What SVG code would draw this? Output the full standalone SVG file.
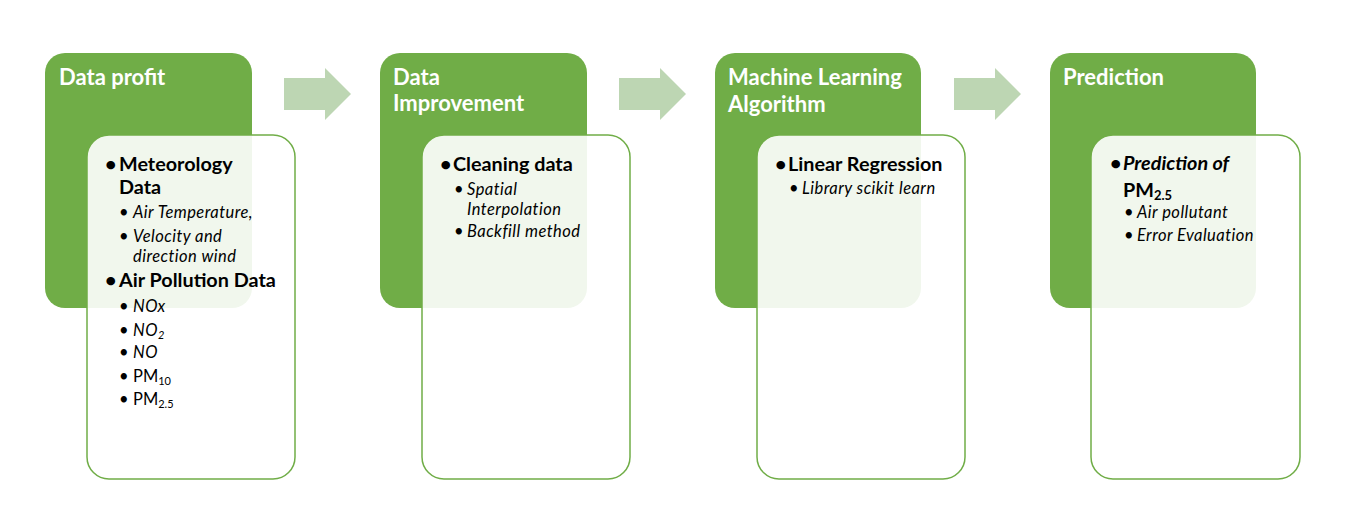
<svg xmlns="http://www.w3.org/2000/svg" width="1348" height="512" viewBox="0 0 1348 512">
<style>
.hdr{fill:#70AD47}
.box{fill:#FFFFFF;fill-opacity:0.9;stroke:#70AD47;stroke-width:1.5}
.arrow{fill:#BDD6B3}
.t{font-family:Lato,"Noto Sans",sans-serif;font-weight:bold;font-size:22px;fill:#FFFFFF}
.b1{font-family:Lato,"Noto Sans",sans-serif;font-weight:bold;font-size:19.8px;fill:#000000}
.b2{font-family:Lato,"Noto Sans",sans-serif;font-style:italic;font-size:16.5px;letter-spacing:0.45px;fill:#000000}
.r2{font-family:Lato,"Noto Sans",sans-serif;font-size:16.5px;fill:#000000}
.d{font-family:Lato,"Noto Sans",sans-serif;font-size:16.5px;fill:#000000}
</style>
<rect width="1348" height="512" fill="#FFFFFF"/>
<g id="connectors">
<polygon class="arrow" points="284,78 325,78 325,68 351,94 325,120 325,110 284,110"/>
<polygon class="arrow" points="619,78 660,78 660,68 686,94 660,120 660,110 619,110"/>
<polygon class="arrow" points="954,78 995,78 995,68 1021,94 995,120 995,110 954,110"/>
</g>
<g id="node-data-profit">
<rect class="hdr" x="45" y="53" width="207" height="255" rx="20"/>
<text class="t" x="59" y="85">Data profit</text>
<rect class="box" x="87" y="135" width="208" height="344" rx="22"/>
<text class="b1" x="105" y="171">•</text><text class="b1" x="119" y="171">Meteorology</text>
<text class="b1" x="119" y="194">Data</text>
<text class="d" x="119" y="218">•</text><text class="b2" x="133" y="218">Air Temperature,</text>
<text class="d" x="119" y="242">•</text><text class="b2" x="133" y="242">Velocity and</text>
<text class="b2" x="133" y="262">direction wind</text>
<text class="b1" x="105" y="287">•</text><text class="b1" x="119" y="287">Air Pollution Data</text>
<text class="d" x="119" y="312">•</text><text class="b2" x="133" y="312">NOx</text>
<text class="d" x="119" y="336">•</text><text class="b2" x="133" y="336">NO<tspan font-size="11" dy="3">2</tspan></text>
<text class="d" x="119" y="358">•</text><text class="b2" x="133" y="358">NO</text>
<text class="d" x="119" y="382">•</text><text class="r2" x="133" y="382">PM<tspan font-size="11" dy="3">10</tspan></text>
<text class="d" x="119" y="405">•</text><text class="r2" x="133" y="405">PM<tspan font-size="11" dy="3">2.5</tspan></text>
</g>
<g id="node-data-improvement">
<rect class="hdr" x="380" y="53" width="207" height="255" rx="20"/>
<text class="t" x="393" y="85">Data</text>
<text class="t" x="393" y="111">Improvement</text>
<rect class="box" x="422" y="135" width="208" height="344" rx="22"/>
<text class="b1" x="440" y="171">•</text><text class="b1" x="453" y="171">Cleaning data</text>
<text class="d" x="454" y="195">•</text><text class="b2" x="467" y="195">Spatial</text>
<text class="b2" x="467" y="215">Interpolation</text>
<text class="d" x="454" y="237">•</text><text class="b2" x="467" y="237">Backfill method</text>
</g>
<g id="node-machine-learning">
<rect class="hdr" x="715" y="53" width="206" height="255" rx="20"/>
<text class="t" x="728" y="85">Machine Learning</text>
<text class="t" x="728" y="112">Algorithm</text>
<rect class="box" x="757" y="135" width="208" height="344" rx="22"/>
<text class="b1" x="775" y="171">•</text><text class="b1" x="788" y="171">Linear Regression</text>
<text class="d" x="789" y="194">•</text><text class="b2" x="802" y="194">Library scikit learn</text>
</g>
<g id="node-prediction">
<rect class="hdr" x="1050" y="53" width="206" height="255" rx="20"/>
<text class="t" x="1063" y="85">Prediction</text>
<rect class="box" x="1091" y="135" width="209" height="344" rx="22"/>
<text class="b1" x="1110" y="170">•</text><text class="b1" x="1123" y="170" font-style="italic">Prediction of</text>
<text class="b1" x="1123" y="197">PM<tspan font-size="13" dy="3">2.5</tspan></text>
<text class="d" x="1124" y="218">•</text><text class="b2" x="1137" y="218">Air pollutant</text>
<text class="d" x="1124" y="241">•</text><text class="b2" x="1137" y="241">Error Evaluation</text>
</g>
</svg>
